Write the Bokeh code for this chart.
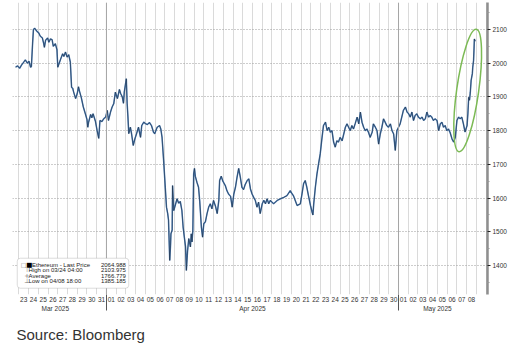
import numpy as np
from bokeh.plotting import figure
from bokeh.models import LinearAxis, FixedTicker, Label, BoxAnnotation, Span, Range1d, Title
from bokeh.embed import file_html
from bokeh.resources import INLINE

# hours since 2025-03-23 00:00
hours = [-8, -3, 2, 7, 12, 16, 21, 25, 29, 31, 34, 36, 39, 44, 49, 53, 58, 61, 63, 66, 71, 74, 78, 82, 85, 90, 94, 96, 99,
         103, 108, 111, 115, 119, 123, 127, 130, 133, 135, 140, 144, 147, 150, 154, 159, 164, 168, 170, 172, 177, 180,
         183, 189, 193, 197, 200, 205, 209, 214, 218, 221, 226, 230, 234, 238, 243, 248, 251, 255, 258, 260, 265, 267,
         269, 271, 275, 278, 282, 286, 290, 295, 300, 303, 308, 312, 317, 322, 327, 332, 335, 341, 347, 350, 353, 357,
         361, 364, 367, 369, 372, 374, 375, 378, 379, 382, 386, 390, 394, 398, 402, 405, 408, 411, 413, 416, 419, 423,
         425, 427, 429, 431, 433, 435, 439, 443, 446, 450, 453, 456, 460, 464, 468, 472, 476, 480, 485, 489, 493, 495,
         499, 503, 509, 513, 517, 522, 526, 530, 534, 538, 542, 546, 550, 554, 558, 563, 567, 571, 575, 579, 583, 587,
         591, 595, 600, 604, 608, 612, 616, 620, 628, 637, 645, 653, 661, 669, 674, 677, 686, 694, 698, 702, 706, 710,
         714, 719, 723, 725, 727, 731, 735, 739, 743, 747, 751, 756, 760, 764, 768, 772, 776, 780, 784, 788, 792, 797,
         801, 805, 809, 813, 817, 821, 825, 829, 834, 838, 842, 846, 850, 854, 858, 862, 866, 871, 874, 879, 883, 887,
         891, 895, 899, 903, 907, 911, 916, 920, 924, 928, 932, 936, 940, 944, 948, 953, 957, 961, 965, 969, 973, 977,
         981, 985, 990, 994, 998, 1002, 1006, 1010, 1014, 1018, 1022, 1026, 1031, 1035, 1039, 1043, 1047, 1051, 1055,
         1059, 1063, 1068, 1072, 1076, 1080, 1084, 1088, 1092, 1096, 1100, 1105, 1107, 1109, 1111, 1113, 1115, 1118,
         1119, 1121, 1122, 1123, 1125]

price = [1988, 1992, 1985, 1995, 2003, 2010, 2000, 2006, 1988, 1990, 2060, 2100, 2103.975, 2095, 2090, 2080, 2075, 2060,
         2047, 2068, 2075, 2062, 2072, 2070, 2050, 2058, 2040, 1988, 1998, 2012, 2028, 2020, 2033, 2018, 2025, 2003, 1929,
         1925, 1915, 1895, 1910, 1930, 1915, 1898, 1870, 1850, 1833, 1810, 1825, 1848, 1838, 1850, 1827, 1800, 1777, 1830,
         1827, 1835, 1840, 1860, 1830, 1855, 1870, 1880, 1914, 1895, 1922, 1910, 1900, 1881, 1915, 1954, 1881, 1840, 1791,
         1810, 1790, 1756, 1775, 1790, 1810, 1780, 1815, 1825, 1821, 1818, 1824, 1815, 1795, 1791, 1810, 1815, 1805, 1781,
         1711, 1632, 1573, 1554, 1535, 1415, 1460, 1494, 1505, 1637, 1563, 1580, 1598, 1585, 1590, 1563, 1514, 1484, 1455,
         1385.185, 1444, 1480, 1455, 1494, 1470, 1505, 1672, 1688, 1665, 1647, 1632, 1590, 1514, 1484, 1524, 1530, 1554,
         1573, 1583, 1568, 1593, 1575, 1554, 1593, 1652, 1665, 1650, 1637, 1622, 1612, 1605, 1573, 1612, 1632, 1662, 1688,
         1662, 1632, 1625, 1640, 1652, 1657, 1627, 1612, 1602, 1593, 1573, 1588, 1554, 1583, 1593, 1583, 1598, 1583, 1593,
         1583, 1593, 1598, 1602, 1607, 1622, 1612, 1607, 1578, 1583, 1612, 1643, 1652, 1632, 1607, 1578, 1558, 1550, 1583,
         1632, 1672, 1702, 1731, 1775, 1815, 1825, 1800, 1810, 1795, 1800, 1766, 1751, 1770, 1766, 1780, 1770, 1790, 1810,
         1820, 1810, 1800, 1815, 1805, 1820, 1840, 1820, 1855, 1825, 1810, 1800, 1805, 1795, 1780, 1795, 1820, 1810, 1800,
         1760, 1790, 1810, 1835, 1825, 1815, 1810, 1820, 1800, 1790, 1741, 1800, 1810, 1820, 1840, 1860, 1870, 1855, 1850,
         1840, 1855, 1830, 1845, 1850, 1840, 1835, 1840, 1830, 1835, 1855, 1840, 1845, 1840, 1830, 1835, 1830, 1800, 1820,
         1825, 1810, 1815, 1800, 1805, 1795, 1775, 1766, 1780, 1830, 1840, 1835, 1840, 1820, 1796, 1815, 1850, 1899, 1890,
         1914, 1949, 1969, 1988, 2008, 2038, 2072, 2064.988]

day_labels = ["23", "24", "25", "26", "27", "28", "29", "30", "31",
              "01", "02", "03", "04", "05", "06", "07", "08", "09", "10", "11", "12", "13", "14", "15", "16", "17",
              "18", "19", "20", "21", "22", "23", "24", "25", "26", "27", "28", "29", "30",
              "01", "02", "03", "04", "05", "06", "07", "08"]
month_labels = ["Mar 2025", "Apr 2025", "May 2025"]
month_label_days = [3.75, 24.0, 43.0]
month_start_days = [9, 39]
y_ticks = [1400, 1500, 1600, 1700, 1800, 1900, 2000, 2100]
y_minor = [1350, 1450, 1550, 1650, 1750, 1850, 1950, 2050, 2150]

legend_names = ["Ethereum - Last Price", "High on 03/24 04:00", "Average", "Low on 04/08 18:00"]
legend_values = ["2064.988", "2103.975", "1766.779", "1385.185"]
last_price = 2064.988
source_text = "Source: Bloomberg"

days = np.array(hours) / 24.0
pr = np.array(price)
hrs = np.array(hours)

p = figure(width=531, height=352, x_range=Range1d(-0.65, 48.14), y_range=Range1d(1314, 2180),
           output_backend="svg", toolbar_location=None, x_axis_location=None, y_axis_location=None,
           min_border_left=12, min_border_right=44, min_border_top=2, min_border_bottom=58,
           outline_line_color=None, background_fill_color="white", border_fill_color="white")

p.xgrid.ticker = FixedTicker(ticks=list(range(0, 49)))
p.xgrid.grid_line_color = "#dadada"
p.xgrid.grid_line_width = 1
p.ygrid.ticker = FixedTicker(ticks=y_ticks)
p.ygrid.grid_line_color = "#9a9a9a"
p.ygrid.grid_line_dash = "1 2"

for d in month_start_days:
    p.add_layout(Span(location=d, dimension="height", line_color="#a5a5a5", line_width=1))

# price line
p.line(days, pr, line_color="#4f80ba", line_width=1.5)
p.line(days, pr, line_color="#17212d", line_width=0.6, line_alpha=0.85)

# highlight ellipse around the latest surge
mx = hrs >= 1088
my = hrs >= 1068
cx = (days[mx].min() + days[mx].max()) / 2
cy = (pr[my].min() + pr[my].max()) / 2
ch = (pr[my].max() - pr[my].min()) * 1.2
p.ellipse(x=[cx], y=[cy], width=22, height=ch, width_units="screen",
          angle=-0.14, fill_color=None, line_color="#7cba55", line_width=1.5)

# right axis
yaxis = LinearAxis(ticker=FixedTicker(ticks=y_ticks, minor_ticks=y_minor),
                   axis_line_color="#8f8f8f", axis_line_width=2.5,
                   major_tick_out=3, major_tick_in=0, major_tick_line_color="#222222",
                   minor_tick_out=2, minor_tick_in=0, minor_tick_line_color="#9a9a9a",
                   major_label_standoff=2, major_label_text_font="Liberation Sans",
                   major_label_text_font_size="6.5px", major_label_text_color="#333333")
p.add_layout(yaxis, "right")

# day axis (minor ticks mark the month boundaries)
day_ticks = [i + 0.5 for i in range(len(day_labels))]
xaxis = LinearAxis(ticker=FixedTicker(ticks=day_ticks, minor_ticks=month_start_days),
                   major_label_overrides={t: lab for t, lab in zip(day_ticks, day_labels)},
                   axis_line_color=None, major_tick_line_color=None,
                   minor_tick_out=16, minor_tick_in=0, minor_tick_line_color="#555555",
                   major_label_standoff=-14, major_label_text_font="Liberation Sans",
                   major_label_text_font_size="6.5px", major_label_text_color="#333333")
p.add_layout(xaxis, "below")

maxis = LinearAxis(ticker=FixedTicker(ticks=month_label_days),
                   major_label_overrides={t: lab for t, lab in zip(month_label_days, month_labels)},
                   axis_line_color=None, major_tick_line_color=None, minor_tick_line_color=None,
                   major_tick_out=0, major_label_standoff=0, major_label_text_font="Liberation Sans",
                   major_label_text_font_size="6.5px", major_label_text_color="#333333")
p.add_layout(maxis, "below")

# source note as a title panel below the axes
p.add_layout(Title(text=source_text, align="left", offset=4, standoff=19,
                   text_font="Liberation Sans", text_font_size="15px", text_font_style="normal",
                   text_color="#333333"), "below")

# last price tag
p.add_layout(Label(x=48.34, y=last_price, text=legend_values[0], text_font="Liberation Sans",
                   text_font_size="6.5px", text_color="white", text_baseline="middle",
                   background_fill_color="black", padding=1))

# legend box
p.add_layout(BoxAnnotation(left=-0.16, right=11.29, top=1421.6, bottom=1332.6,
                           fill_color="white", fill_alpha=1.0, line_color="#8a8a8a", line_width=1,
                           border_radius=3))
row_y = [1402.9, 1386.0, 1370.2, 1353.3]
icons = ["■", "⊤", "+", "⊥"]
for i, (name, val) in enumerate(zip(legend_names, legend_values)):
    p.add_layout(Label(x=11.0, y=row_y[i], text=val, text_align="right", text_baseline="middle",
                       text_font="Liberation Sans", text_font_size="6px", text_color="#222222"))
    p.add_layout(Label(x=1.35 if i == 0 else 1.0, y=row_y[i], text=name, text_baseline="middle",
                       text_font="Liberation Sans", text_font_size="6px", text_color="#222222"))
    p.add_layout(Label(x=0.75 if i == 0 else 0.55, y=row_y[i], text=icons[i], text_baseline="middle",
                       text_font="DejaVu Sans", text_font_size="6.5px",
                       text_color="#000000" if i == 0 else "#777777"))
p.add_layout(Label(x=0.2, y=row_y[0], text="□", text_baseline="middle", text_font="DejaVu Sans",
                   text_font_size="6px", text_color="#888888"))

open("out.html", "w").write(file_html(p, INLINE))
